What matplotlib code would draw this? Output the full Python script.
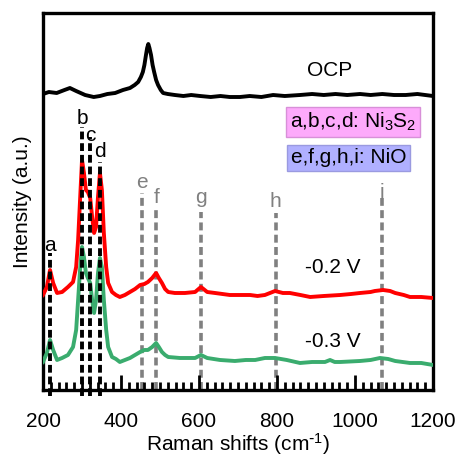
import matplotlib
matplotlib.use('Agg')
import matplotlib.pyplot as plt
from matplotlib.ticker import MultipleLocator

plt.rcParams['font.family'] = ['Liberation Sans', 'DejaVu Sans']
plt.rcParams['mathtext.default'] = 'regular'
plt.rcParams['font.size'] = 15

# Raman spectra (offset intensities, arbitrary units)
ocp_x = [200, 215, 235, 255, 269, 285, 308, 330, 346, 365, 385, 405, 423, 435, 444, 451, 456, 460,
         464, 467, 470, 473, 477, 481, 485, 490, 495, 502, 508, 520, 538, 560, 580, 603, 630, 655,
         679, 705, 730, 760, 790, 820, 859, 890, 920, 950, 980, 1013, 1040, 1070, 1100, 1130, 1160,
         1180, 1200]
ocp_y = [296, 298, 297, 300, 302, 299, 295, 293, 294, 296, 297, 300, 302, 305, 308, 313, 318, 325,
         335, 342, 346, 342, 335, 325, 318, 310, 305, 300, 297, 296, 295, 294, 295, 294, 293, 294,
         293, 293, 294, 293, 295, 294, 295, 296, 295, 296, 295, 296, 295, 296, 295, 295, 296,
         295, 294]

red_x = [200, 210, 218, 226, 236, 249, 264, 277, 285, 290, 295, 300, 305, 310, 315, 321, 326, 331,
         336, 341, 346, 351, 356, 362, 367, 377, 387, 397, 410, 423, 436, 449, 460, 469, 480, 490,
         497, 505, 513, 521, 538, 564, 590, 605, 621, 641, 660, 679, 705, 731, 750, 769, 795, 815,
         833, 860, 885, 920, 962, 990, 1013, 1040, 1051, 1072, 1090, 1103, 1125, 1141, 1170, 1200]
red_y = [95, 103, 120, 107, 97, 98, 103, 108, 123, 150, 190, 230, 217, 200, 198, 192, 173, 157,
         163, 193, 217, 200, 157, 123, 107, 98, 95, 93, 95, 98, 101, 105, 106, 108, 112, 117,
         112, 107, 101, 98, 97, 97, 98, 103, 98, 97, 96, 95, 95, 95, 94, 95, 99, 97,
         97, 95, 93, 94, 95, 96, 97, 98, 99, 100, 99, 97, 95, 93, 93, 92]

green_x = [200, 210, 218, 226, 236, 249, 264, 277, 285, 290, 295, 300, 305, 310, 315, 321, 326, 331,
           336, 341, 346, 351, 356, 362, 367, 377, 387, 397, 410, 423, 436, 449, 460, 469, 480,
           490, 497, 505, 513, 521, 551, 590, 605, 621, 654, 692, 720, 744, 769, 795, 825, 859,
           890, 923, 936, 948, 962, 1013, 1040, 1064, 1085, 1103, 1141, 1170, 1200]
green_y = [28, 37, 50, 40, 30, 32, 35, 43, 60, 90, 120, 143, 133, 117, 112, 107, 90, 77,
           90, 117, 132, 123, 90, 60, 43, 33, 31, 28, 30, 32, 35, 38, 40, 40, 43,
           47, 43, 38, 35, 33, 32, 32, 35, 32, 30, 29, 30, 30, 32, 32, 30, 27,
           28, 28, 30, 28, 28, 29, 30, 32, 31, 29, 27, 27, 25]

# peak markers: position, label, top of the dashed line, label height
s_pos = [218, 300, 321, 346]
s_lab = ['a', 'b', 'c', 'd']
s_top = [137, 263, 253, 228]
s_txt = [144, 272, 255, 238]

o_pos = [453, 491, 605, 797, 1068]
o_lab = ['e', 'f', 'g', 'h', 'i']
o_top = [197, 182, 178, 177, 192]
o_txt = [207, 192, 192, 188, 197]

fig = plt.figure(figsize=(4.58, 4.58), dpi=100)
ax = fig.add_axes([0.0939, 0.1485, 0.8515, 0.8231])

for x, top, lab, ty in zip(o_pos, o_top, o_lab, o_txt):
    ax.plot([x, x], [0, top], color='#808080', lw=2.6, ls=(0, (2.2, 1.2)), zorder=1)
    ax.text(x, ty, lab, color='#808080', ha='center', va='center', fontsize=15)

ax.plot(ocp_x, ocp_y, color='black', lw=2.8, zorder=3)
ax.plot(red_x, red_y, color='#ff0000', lw=2.8, zorder=3)
ax.plot(green_x, green_y, color='#3aac6e', lw=2.8, zorder=3)

for x, top, lab, ty in zip(s_pos, s_top, s_lab, s_txt):
    ax.plot([x, x], [-6, top], color='black', lw=2.8, ls=(0, (2, 1)), zorder=4, clip_on=False)
    ax.text(x, ty, lab, color='black', ha='center', va='center', fontsize=15, zorder=5)

ax.text(936, 320, 'OCP', ha='center', va='center')
ax.text(943, 122, '-0.2 V', ha='center', va='center')
ax.text(943, 48, '-0.3 V', ha='center', va='center')

ax.text(995, 268, r'a,b,c,d: Ni$_{3}$S$_{2}$', ha='center', va='center',
        bbox=dict(boxstyle='square,pad=0.18', facecolor='#fdaafb', edgecolor='#d890d8', lw=1))
ax.text(983, 232, 'e,f,g,h,i: NiO', ha='center', va='center',
        bbox=dict(boxstyle='square,pad=0.18', facecolor='#b0b0ff', edgecolor='#9a9ae0', lw=1))

ax.set_xlim(200, 1200)
ax.set_ylim(0, 377)
ax.xaxis.set_major_locator(MultipleLocator(200))
ax.xaxis.set_minor_locator(MultipleLocator(20))
ax.tick_params(axis='x', which='major', direction='in', length=11, width=2, pad=16, labelsize=15)
ax.tick_params(axis='x', which='minor', direction='in', length=5.5, width=2)
ax.set_yticks([])
for sp in ax.spines.values():
    sp.set_linewidth(2.4)

ax.set_xlabel(r'Raman shifts (cm$^{\text{-}1}$)', fontsize=15, labelpad=0)
ax.set_ylabel('Intensity (a.u.)', fontsize=15, labelpad=8)

fig.savefig('out.png', dpi=100)
